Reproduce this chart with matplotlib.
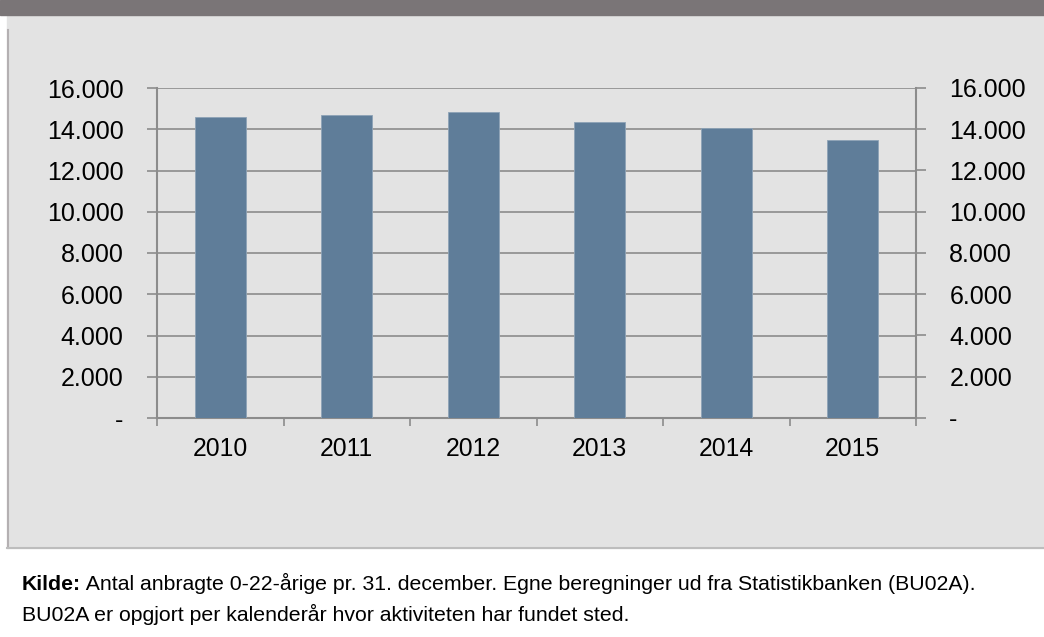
import numpy as np
import matplotlib
matplotlib.use("Agg")
import matplotlib.pyplot as plt
from matplotlib.patches import Rectangle
from matplotlib.lines import Line2D

plt.rcParams['font.family'] = ['Liberation Sans', 'DejaVu Sans']

years = ["2010", "2011", "2012", "2013", "2014", "2015"]
values = [14580, 14710, 14860, 14350, 14045, 13480]
yticks = [0, 2000, 4000, 6000, 8000, 10000, 12000, 14000, 16000]
ytick_labels = ["-", "2.000", "4.000", "6.000", "8.000", "10.000", "12.000", "14.000", "16.000"]

W, H = 1044, 637
fig = plt.figure(figsize=(W / 100, H / 100), dpi=100, facecolor="white")

def px(x0, y0, w, h):
    # pixel box (top-left origin) -> figure fraction
    return (x0 / W, 1 - (y0 + h) / H, w / W, h / H)

# background panels (behind the axes)
fig.patches.append(Rectangle(px(7, 15, W - 7, 533)[:2], (W - 7) / W, 533 / H,
                             transform=fig.transFigure, color="#e3e3e3", zorder=-2))
fig.patches.append(Rectangle(px(0, 0, W, 15)[:2], 1, 15 / H,
                             transform=fig.transFigure, color="#7a7577", zorder=-2))
fig.lines.append(Line2D([7.5 / W, 7.5 / W], [1 - 30 / H, 1 - 548 / H],
                        transform=fig.transFigure, color="#b4b0b2", lw=1.5, zorder=-1))
fig.lines.append(Line2D([7 / W, 1], [1 - 548 / H, 1 - 548 / H],
                        transform=fig.transFigure, color="#bdbdbd", lw=1.5, zorder=-1))

ax = fig.add_axes(px(157, 88, 759, 330))
ax.set_facecolor("none")
x = np.arange(len(years))
ax.bar(x, values, width=0.4, color="#5f7d99", edgecolor="#8ea3b6", lw=0.6, zorder=3)
ax.set_xlim(-0.5, len(years) - 0.5)
ax.set_ylim(0, 16000)

grid_c = "#8c8c8c"
ax.set_yticks(yticks)
ax.set_yticklabels(ytick_labels, fontsize=18)
ax.yaxis.grid(True, color=grid_c, lw=1.2, zorder=0)
ax.set_axisbelow(True)
ax.tick_params(axis="y", length=7, color=grid_c, width=1.2, pad=17)

ax.set_xticks(x)
ax.set_xticklabels(years, fontsize=17.8)
ax.set_xticks(np.arange(-0.5, len(years)), minor=True)
ax.tick_params(axis="x", which="major", length=0, pad=14)
ax.tick_params(axis="x", which="minor", length=6, color=grid_c, width=1.2)

for s in ["left", "right", "bottom"]:
    ax.spines[s].set_color(grid_c)
    ax.spines[s].set_linewidth(1.5)
ax.spines["top"].set_visible(False)

ax2 = ax.twinx()
ax2.set_ylim(0, 16000)
ax2.set_yticks(yticks)
ax2.set_yticklabels(ytick_labels, fontsize=18, ha="left")
ax2.tick_params(axis="y", length=7, color=grid_c, width=1.2, pad=17)
for s in ax2.spines.values():
    s.set_visible(False)

# caption
t1 = fig.text(22 / W, 1 - 594 / H, "Kilde:", fontsize=15.3, fontweight="bold", va="bottom")
fig.add_artist(plt.Annotation(
    " Antal anbragte 0-22-årige pr. 31. december. Egne beregninger ud fra Statistikbanken (BU02A).",
    xy=(1, 0), xycoords=t1, va="bottom", fontsize=15.3))
fig.text(22 / W, 1 - 625 / H, "BU02A er opgjort per kalenderår hvor aktiviteten har fundet sted.",
         fontsize=15.3, va="bottom")

fig.savefig("out.png", dpi=100)
